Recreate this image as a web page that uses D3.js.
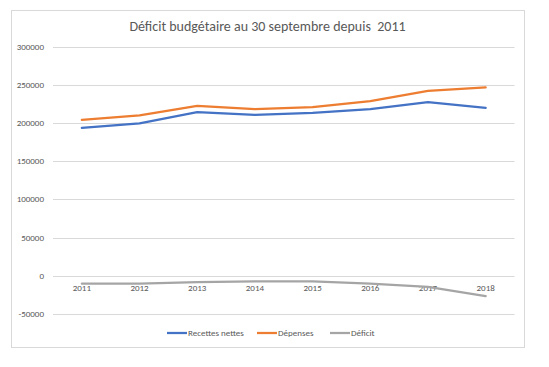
<!DOCTYPE html>
<html><head><meta charset="utf-8">
<script src="https://cdn.jsdelivr.net/npm/d3@7"></script>
<style>body{margin:0;background:#fff}svg{display:block}</style>
</head><body>
<script>
const years = ["2011","2012","2013","2014","2015","2016","2017","2018"];
const recettes = [194000, 199700, 214500, 211000, 213600, 218500, 227700, 220200];
const depenses = [204500, 210200, 222800, 218500, 221100, 229000, 242500, 247000];
const deficit = [-10500, -10500, -8300, -7500, -7500, -10500, -14800, -26800];
const yTicks = [-50000, 0, 50000, 100000, 150000, 200000, 250000, 300000];
const seriesNames = ["Recettes nettes", "Dépenses", "Déficit"];
const colors = ["#4472C4", "#ED7D31", "#A5A5A5"];

const W = 549, H = 367;
const svg = d3.select("body").append("svg").attr("width", W).attr("height", H);
const font = "Carlito, 'Liberation Sans', Arial, sans-serif";

svg.append("rect").attr("x", 11.5).attr("y", 10.5).attr("width", 513).attr("height", 337)
  .attr("fill", "#fff").attr("stroke", "#D9D9D9").attr("stroke-width", 1);

svg.append("text").attr("x", 267.5).attr("y", 31).attr("text-anchor", "middle")
  .attr("font-family", font).attr("font-size", 14).attr("fill", "#595959")
  .attr("xml:space", "preserve")
  .text("Déficit budgétaire au 30 septembre depuis  2011");

const x = d3.scaleBand().domain(years).range([53, 514.5]);
const y = d3.scaleLinear().domain([-50000, 300000]).range([313.8, 47]);

const g = svg.append("g");
g.selectAll("line.grid").data(yTicks).join("line").attr("class", "grid")
  .attr("x1", 53).attr("x2", 514.5)
  .attr("y1", d => Math.round(y(d)) + 0.5).attr("y2", d => Math.round(y(d)) + 0.5)
  .attr("stroke", "#D9D9D9").attr("stroke-width", 1);

g.selectAll("text.ytick").data(yTicks).join("text").attr("class", "ytick")
  .attr("x", 44).attr("y", d => y(d) + 3).attr("text-anchor", "end")
  .attr("font-family", font).attr("font-size", 9).attr("fill", "#595959")
  .text(d => d);

g.selectAll("text.xtick").data(years).join("text").attr("class", "xtick")
  .attr("x", d => x(d) + x.bandwidth() / 2).attr("y", y(0) + 15).attr("text-anchor", "middle")
  .attr("font-family", font).attr("font-size", 9).attr("fill", "#595959")
  .text(d => d);

const line = d3.line().x((d, i) => x(years[i]) + x.bandwidth() / 2).y(d => y(d));
[recettes, depenses, deficit].forEach((s, k) => {
  svg.append("path").datum(s).attr("d", line).attr("fill", "none")
    .attr("stroke", colors[k]).attr("stroke-width", 2.25).attr("stroke-linejoin", "round").attr("stroke-linecap", "round");
});

const legX = [167, 257, 330];
seriesNames.forEach((n, k) => {
  svg.append("line").attr("x1", legX[k]).attr("x2", legX[k] + 20).attr("y1", 333).attr("y2", 333)
    .attr("stroke", colors[k]).attr("stroke-width", 2.25);
  svg.append("text").attr("x", legX[k] + 21).attr("y", 336)
    .attr("font-family", font).attr("font-size", 9).attr("fill", "#595959").text(n);
});
</script>
</body></html>
